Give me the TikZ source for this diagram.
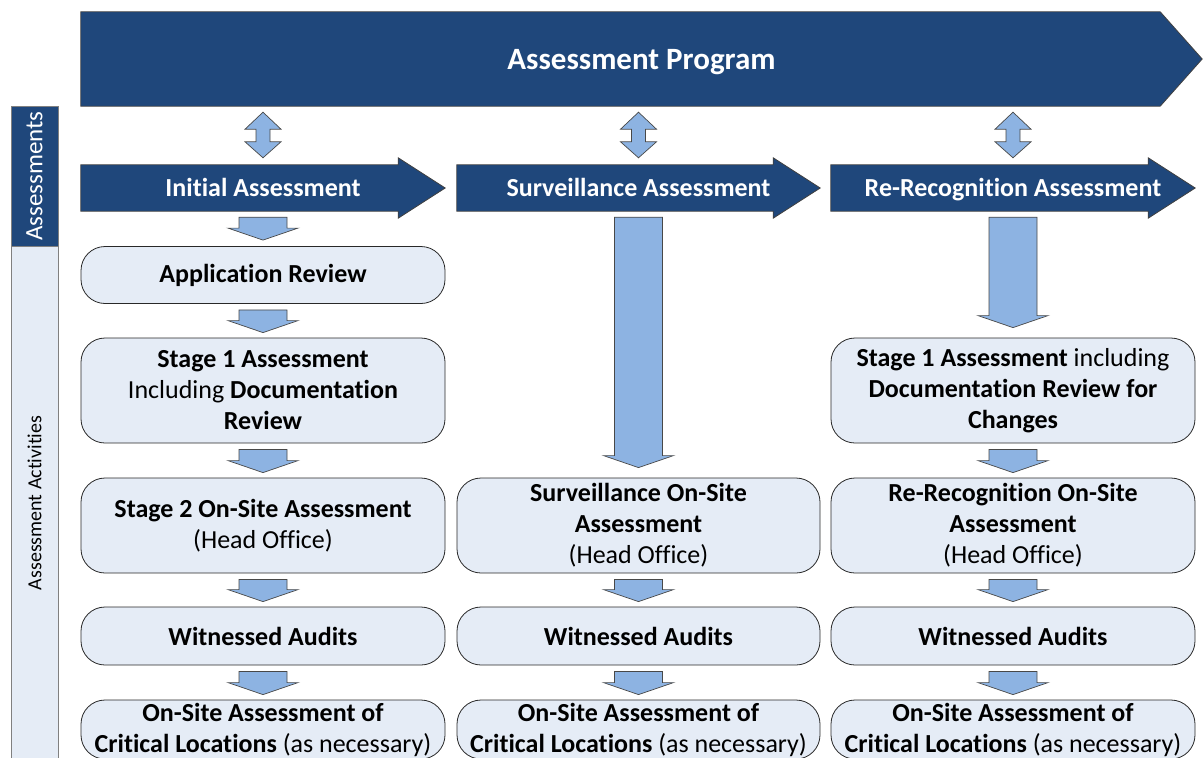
\documentclass[tikz,border=0pt]{standalone}
\usepackage{fontspec}
\setmainfont{Carlito}[Ligatures=NoCommon]
\usetikzlibrary{calc,backgrounds}
\definecolor{dkblue}{RGB}{31,71,123}
\definecolor{ltblue}{RGB}{141,179,226}
\definecolor{boxfill}{RGB}{229,236,246}
\definecolor{edgecol}{RGB}{40,40,40}
\newcommand\blkarrow[3]{%
  \draw[blk] let \p1=(#1), \p2=(#2) in
    (\x1-24pt,\y1-6pt) -- (\x1+24pt,\y1-6pt) -- (\x1+24pt,\y2+#3+12pt) --
    (\x1+35pt,\y2+#3+12pt) -- (\x1,\y2+#3) -- (\x1-35pt,\y2+#3+12pt) --
    (\x1-24pt,\y2+#3+12pt) -- cycle;}
\newcommand\dblarrow[1]{%
  \draw[blk] let \p1=(#1.north |- prog.south), \p2=(#1.north) in
    (\x1,\y1-6pt) -- (\x1+18pt,\y1-23pt) -- (\x1+7pt,\y1-23pt) --
    (\x1+7pt,\y2+23pt) -- (\x1+18pt,\y2+23pt) -- (\x1,\y2+7pt) --
    (\x1-18pt,\y2+23pt) -- (\x1-7pt,\y2+23pt) -- (\x1-7pt,\y1-23pt) --
    (\x1-18pt,\y1-23pt) -- cycle;}
\newcommand\hdrshape[1]{%
  \draw[dkshape] (#1.north west) -- ($(#1.north east)+(-47,0)$) --
    ($(#1.north east)+(-47,-7)$) -- (#1.east) -- ($(#1.south east)+(-47,7)$) --
    ($(#1.south east)+(-47,0)$) -- (#1.south west) -- cycle;}
\begin{document}
\begin{tikzpicture}[x=1pt,y=-1pt,
  stepbox/.style={draw=edgecol, line width=0.8pt, fill=boxfill, rounded corners=24pt,
    minimum width=364pt, align=center, inner sep=0pt, font=\fontsize{26}{31}\selectfont},
  hdr/.style={minimum width=364pt, minimum height=46pt, inner sep=0pt, text=white,
    text height=22pt, text depth=5.3pt,
    font=\bfseries\fontsize{26}{31}\selectfont},
  blk/.style={fill=ltblue, draw=edgecol!85, line width=0.7pt, line join=miter},
  dkshape/.style={fill=dkblue, draw=black!75, line width=0.8pt, line join=miter},
  side/.style={draw=gray, line width=0.8pt, rotate=90, minimum height=47pt, inner sep=0pt}]
\useasboundingbox (0,0) rectangle (1203,758);

% top program arrow
\node[minimum width=1121pt, minimum height=94pt, inner sep=0pt, text=white,
  text height=26pt, text depth=6pt,
  font=\bfseries\fontsize{31}{37}\selectfont] (prog) at (641.5,59) {Assessment Program};

% column headers
\node[hdr] (h1) at (263,188) {Initial Assessment};
\node[hdr, minimum width=363pt] (h2) at (638.5,188) {Surveillance Assessment};
\node[hdr] (h3) at (1013,188) {Re-Recognition Assessment};

% side bar
\node[side, fill=dkblue, minimum width=140pt, text=white,
  font=\fontsize{25}{30}\selectfont] (sa) at (34.5,176) {Assessments};
\node[side, fill=boxfill, minimum width=514pt,
  font=\fontsize{20}{24}\selectfont] (sb) at (34.5,503) {Assessment Activities};

% left column
\node[stepbox, minimum height=57pt] (a1) at (263,275) {\textbf{Application Review}};
\node[stepbox, minimum height=105pt] (a2) at (263,390.5)
  {\textbf{Stage 1 Assessment}\\Including \textbf{Documentation}\\\textbf{Review}};
\node[stepbox, minimum height=95pt] (a3) at (263,525.5)
  {\textbf{Stage 2 On-Site Assessment}\\(Head Office)};
\node[stepbox, minimum height=58pt] (a4) at (263,636) {\textbf{Witnessed Audits}};
\node[stepbox, minimum height=59pt] (a5) at (263,729.5)
  {\textbf{On-Site Assessment of}\\\textbf{Critical Locations} (as necessary)};

% middle column
\node[stepbox, minimum width=363pt, minimum height=95pt] (b3) at (638.5,525.5)
  {\textbf{Surveillance On-Site}\\\textbf{Assessment}\\(Head Office)};
\node[stepbox, minimum width=363pt, minimum height=58pt] (b4) at (638.5,636) {\textbf{Witnessed Audits}};
\node[stepbox, minimum width=363pt, minimum height=59pt] (b5) at (638.5,729.5)
  {\textbf{On-Site Assessment of}\\\textbf{Critical Locations} (as necessary)};

% right column
\node[stepbox, minimum height=105pt] (c2) at (1013,390.5)
  {\textbf{Stage 1 Assessment} including\\\textbf{Documentation Review for}\\\textbf{Changes}};
\node[stepbox, minimum height=95pt] (c3) at (1013,525.5)
  {\textbf{Re-Recognition On-Site}\\\textbf{Assessment}\\(Head Office)};
\node[stepbox, minimum height=58pt] (c4) at (1013,636) {\textbf{Witnessed Audits}};
\node[stepbox, minimum height=59pt] (c5) at (1013,729.5)
  {\textbf{On-Site Assessment of}\\\textbf{Critical Locations} (as necessary)};

\begin{scope}[on background layer]
  \draw[dkshape] (prog.north west) -- ($(prog.north east)+(-42,0)$) -- (prog.east) --
    ($(prog.south east)+(-42,0)$) -- (prog.south west) -- cycle;
  \hdrshape{h1}
  \hdrshape{h2}
  \hdrshape{h3}
\end{scope}

% double arrows
\dblarrow{h1}
\dblarrow{h2}
\dblarrow{h3}

% block arrows
\blkarrow{h1.south}{a1.north}{6pt}
\blkarrow{a1.south}{a2.north}{5pt}
\blkarrow{a2.south}{a3.north}{5pt}
\blkarrow{a3.south}{a4.north}{5pt}
\blkarrow{a4.south}{a5.north}{5pt}

\blkarrow{h2.south}{b3.north}{10pt}
\blkarrow{b3.south}{b4.north}{5pt}
\blkarrow{b4.south}{b5.north}{5pt}

\blkarrow{h3.south}{c2.north}{10pt}
\blkarrow{c2.south}{c3.north}{5pt}
\blkarrow{c3.south}{c4.north}{5pt}
\blkarrow{c4.south}{c5.north}{5pt}
\end{tikzpicture}
\end{document}
